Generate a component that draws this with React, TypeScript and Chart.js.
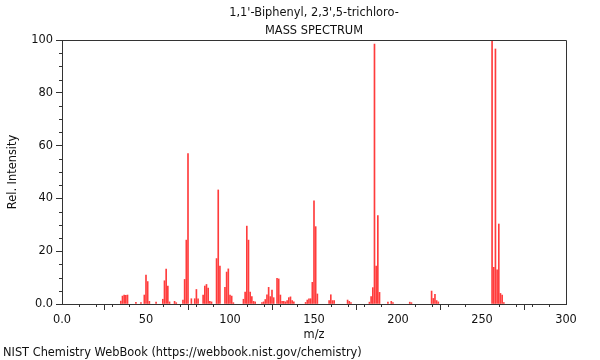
import React, { useEffect, useRef } from "react";
import { Chart, registerables } from "chart.js";

Chart.register(...registerables);

const titleLines = ["1,1'-Biphenyl, 2,3',5-trichloro-", "MASS SPECTRUM"];
const footerText = "NIST Chemistry WebBook (https://webbook.nist.gov/chemistry)";
const xTitle = "m/z";
const yTitle = "Rel. Intensity";

const mzValues = [
  35, 36, 37, 38, 39, 44, 47, 49, 50, 51, 52, 56, 60, 61, 62, 63, 64, 67, 68, 72,
  73, 74, 75, 77, 79, 80, 81, 84, 85, 86, 87, 88, 89, 92, 93, 94, 97, 98, 99, 100,
  101, 102, 108, 109, 110, 111, 112, 113, 114, 115, 119, 120, 121, 122, 123, 124, 125, 126, 128, 129,
  130, 131, 132, 133, 134, 135, 136, 137, 138, 145, 146, 147, 148, 149, 150, 151, 152, 159, 160, 161,
  162, 170, 171, 172, 183, 184, 185, 186, 187, 188, 189, 194, 196, 197, 207, 208, 220, 221, 222, 223,
  224, 256, 257, 258, 259, 260, 261, 262, 263,
];
const intensities = [
  1.1, 3.0, 3.4, 3.3, 3.4, 0.6, 0.5, 3.4, 11, 8.5, 1, 0.7, 1.8, 8.8, 13.2, 6.8, 0.8, 1, 0.5, 1.5,
  9.3, 24.2, 57, 2, 2, 5.5, 2, 3.4, 6.8, 7.4, 6, 1, 0.8, 17.2, 43.2, 14.4, 6.3, 12.1, 13.3, 3.4,
  3, 0.5, 1.8, 4.5, 29.5, 24.2, 4.5, 2.8, 1, 0.8, 0.5, 0.8, 1.7, 3.5, 6.3, 2.8, 5.3, 2.4, 9.7, 9.5,
  3.4, 1, 1, 0.8, 1.3, 2.4, 2.7, 1.3, 0.8, 0.6, 1.5, 2, 2, 8.2, 39.1, 29.3, 3.8, 1.3, 3.5, 1.3,
  1.3, 1.5, 1, 0.5, 0.7, 2.8, 6.2, 98.5, 14.4, 33.5, 4.4, 0.7, 1, 0.5, 0.7, 0.5, 4.9, 2.1, 3.7, 1.3,
  0.8, 100, 13.9, 96.6, 12.9, 30.3, 4, 3.4, 0.5,
];

const xMin = 0;
const xMax = 300;
const xMajorStep = 50;
const xMinorStep = 10;
const yMin = 0;
const yMax = 100;
const yMajorStep = 20;
const yMinorStep = 5;

const FONT = "'DejaVu Sans', sans-serif";
const FONT_SIZE = 11.4;
const AXIS_COLOR = "#333333";
const TEXT_COLOR = "#111111";
const BAR_COLOR = "rgb(255, 60, 60)";

const decorPlugin = {
  id: "decor",
  afterDraw(chart: any) {
    const ctx = chart.ctx;
    const area = chart.chartArea;
    const xs = chart.scales.x;
    const ys = chart.scales.y;
    ctx.save();
    // frame top & right
    ctx.strokeStyle = AXIS_COLOR;
    ctx.lineWidth = 1;
    ctx.beginPath();
    ctx.moveTo(Math.round(area.left) + 0.5, Math.round(area.top) + 0.5);
    ctx.lineTo(Math.round(area.right) + 0.5, Math.round(area.top) + 0.5);
    ctx.lineTo(Math.round(area.right) + 0.5, Math.round(area.bottom) + 0.5);
    ctx.stroke();
    // minor ticks
    ctx.beginPath();
    for (let v = xMin; v <= xMax; v += xMinorStep) {
      if (v % xMajorStep === 0) continue;
      const px = Math.round(xs.getPixelForValue(v)) + 0.5;
      ctx.moveTo(px, area.bottom);
      ctx.lineTo(px, area.bottom + 3);
    }
    for (let v = yMin; v <= yMax; v += yMinorStep) {
      if (v % yMajorStep === 0) continue;
      const py = Math.round(ys.getPixelForValue(v)) + 0.5;
      ctx.moveTo(area.left, py);
      ctx.lineTo(area.left - 3, py);
    }
    ctx.stroke();
    // title
    ctx.fillStyle = TEXT_COLOR;
    ctx.font = `${FONT_SIZE}px ${FONT}`;
    ctx.textAlign = "center";
    ctx.textBaseline = "middle";
    const cx = (area.left + area.right) / 2;
    ctx.fillText(titleLines[0], cx, 13.5);
    ctx.fillText(titleLines[1], cx, 31);
    // footer
    ctx.textAlign = "left";
    ctx.fillText(footerText, 3, 353);
    ctx.restore();
  },
};

export default function App() {
  const canvasRef = useRef<HTMLCanvasElement | null>(null);

  useEffect(() => {
    if (!canvasRef.current) return;
    const data = mzValues.map((m, i) => ({ x: m, y: intensities[i] }));
    const chart = new Chart(canvasRef.current, {
      type: "bar",
      data: {
        datasets: [
          {
            data,
            backgroundColor: BAR_COLOR,
            borderWidth: 0,
            barThickness: 1,
          } as any,
        ],
      },
      options: {
        animation: false,
        responsive: false,
        devicePixelRatio: 1,
        layout: { padding: { top: 40, right: 34, bottom: 16, left: 0 } },
        plugins: {
          legend: { display: false },
          title: { display: false },
          tooltip: { enabled: false },
        },
        scales: {
          x: {
            type: "linear",
            min: xMin,
            max: xMax,
            offset: false,
            grid: {
              display: true,
              drawOnChartArea: false,
              drawTicks: true,
              tickLength: 6,
              color: AXIS_COLOR,
            },
            border: { display: true, color: AXIS_COLOR, width: 1 },
            ticks: {
              stepSize: xMajorStep,
              padding: 3,
              color: TEXT_COLOR,
              font: { family: FONT, size: FONT_SIZE },
              maxRotation: 0,
              callback: (v: any) => (v === 0 ? "0.0" : String(v)),
            },
            title: {
              display: true,
              text: xTitle,
              color: TEXT_COLOR,
              font: { family: FONT, size: FONT_SIZE },
              padding: { top: 2, bottom: 2 },
            },
            afterFit: (s: any) => {
              s.height = 40;
            },
          },
          y: {
            type: "linear",
            min: yMin,
            max: yMax,
            grid: {
              display: true,
              drawOnChartArea: false,
              drawTicks: true,
              tickLength: 6,
              color: AXIS_COLOR,
            },
            border: { display: true, color: AXIS_COLOR, width: 1 },
            ticks: {
              stepSize: yMajorStep,
              padding: 3,
              color: TEXT_COLOR,
              font: { family: FONT, size: FONT_SIZE },
              callback: (v: any) => (v === 0 ? "0.0" : String(v)),
            },
            title: {
              display: true,
              text: yTitle,
              color: TEXT_COLOR,
              font: { family: FONT, size: FONT_SIZE },
              padding: { top: 6, bottom: 4 },
            },
            afterFit: (s: any) => {
              s.width = 62;
            },
          },
        },
      },
      plugins: [decorPlugin],
    });
    return () => chart.destroy();
  }, []);

  return (
    <div style={{ position: "fixed", left: 0, top: 0, width: 600, height: 360, background: "#fff" }}>
      <canvas ref={canvasRef} width={600} height={360} style={{ width: 600, height: 360 }} />
    </div>
  );
}
